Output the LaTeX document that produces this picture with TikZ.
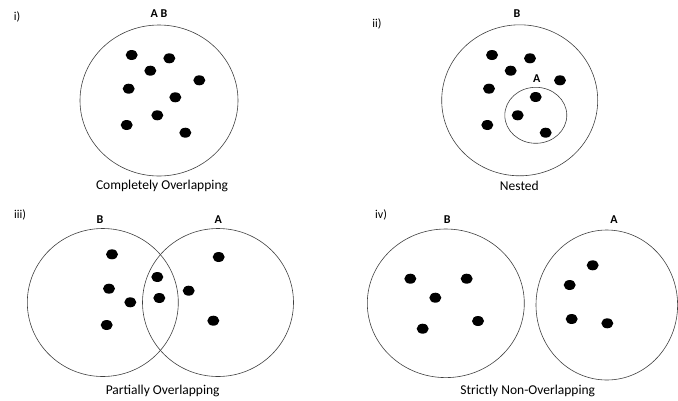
\documentclass[tikz,border=0pt]{standalone}
\usepackage{fontspec}
\setmainfont{Carlito}
\usetikzlibrary{shapes.geometric, positioning}
\tikzstyle{set} = [ellipse, draw=black!75, line width=0.6pt, inner sep=0pt]
\tikzstyle{elem} = [ellipse, fill=black, minimum width=12pt, minimum height=10pt, inner sep=0pt]
\tikzstyle{setname} = [font=\fontsize{12}{14}\selectfont\bfseries, inner sep=0pt]
\tikzstyle{caption} = [font=\fontsize{13.5}{16}\selectfont, inner sep=0pt]
\tikzstyle{panel} = [font=\fontsize{12}{14}\selectfont, inner sep=0pt]

\begin{document}
\begin{tikzpicture}[x=1pt, y=-1pt]
	\useasboundingbox (0,0) rectangle (678,400);

	% i) Completely overlapping
	\node (tag1) [panel] at (17,17) {i)};
	\node (setAB) [set, minimum width=158pt, minimum height=151pt] at (159,100.5) {};
	\node (nameAB) [setname] at (159,14) {A B};
	\node (e1a) [elem] at (131.7,55) {};
	\node (e1b) [elem] at (169.3,58.3) {};
	\node (e1c) [elem] at (150.3,70.7) {};
	\node (e1d) [elem] at (199.3,80.3) {};
	\node (e1e) [elem] at (128.7,88.7) {};
	\node (e1f) [elem] at (175.3,97.3) {};
	\node (e1g) [elem] at (157.3,115.3) {};
	\node (e1h) [elem] at (126.7,125) {};
	\node (e1i) [elem] at (185.3,132.7) {};
	\node (cap1) [caption] at (162,185.7) {Completely Overlapping};

	% ii) Nested
	\node (tag2) [panel] at (377,24) {ii)};
	\node (setB2) [set, minimum width=156pt, minimum height=151pt] at (519.7,100.3) {};
	\node (nameB2) [setname] at (517,14) {B};
	\node (setA2) [set, minimum width=62pt, minimum height=56pt] at (535.8,115.3) {};
	\node (nameA2) [setname] at (536.7,78.3) {A};
	\node (e2a) [elem] at (492,55) {};
	\node (e2b) [elem] at (530,58.3) {};
	\node (e2c) [elem] at (510.7,70.7) {};
	\node (e2d) [elem] at (560,80.3) {};
	\node (e2e) [elem] at (489,88.7) {};
	\node (e2f) [elem] at (535.7,97) {};
	\node (e2g) [elem] at (517.7,115.3) {};
	\node (e2h) [elem] at (487.3,125) {};
	\node (e2i) [elem] at (545.7,132.7) {};
	\node (cap2) [caption] at (519.3,185.7) {Nested};

	% iii) Partially overlapping
	\node (tag3) [panel] at (20,215) {iii)};
	\node (setB3) [set, minimum width=151pt, minimum height=148pt] at (102.8,302.5) {};
	\node (setA3) [set, minimum width=151pt, minimum height=148pt] at (218,302.5) {};
	\node (nameB3) [setname] at (100,219.3) {B};
	\node (nameA3) [setname] at (218.3,219.3) {A};
	\node (e3a) [elem] at (112,254.3) {};
	\node (e3b) [elem] at (109,288.7) {};
	\node (e3c) [elem] at (130.3,302.3) {};
	\node (e3d) [elem] at (106.7,325) {};
	\node (e3e) [elem] at (157.3,277) {};
	\node (e3f) [elem] at (159.3,298) {};
	\node (e3g) [elem] at (188.7,290.7) {};
	\node (e3h) [elem] at (218.7,257) {};
	\node (e3i) [elem] at (213.3,320.7) {};
	\node (cap3) [caption] at (162.7,391) {Partially Overlapping};

	% iv) Strictly non-overlapping
	\node (tag4) [panel] at (381,215) {iv)};
	\node (setB4) [set, minimum width=157pt, minimum height=148.6pt] at (445.8,303.3) {};
	\node (setA4) [set, minimum width=141.6pt, minimum height=150pt] at (606.8,305) {};
	\node (nameB4) [setname] at (447.3,220) {B};
	\node (nameA4) [setname] at (614,220) {A};
	\node (e4a) [elem] at (410.3,278.7) {};
	\node (e4b) [elem] at (466.7,278.7) {};
	\node (e4c) [elem] at (435.3,297.7) {};
	\node (e4d) [elem] at (478,321) {};
	\node (e4e) [elem] at (422.7,328.7) {};
	\node (e4f) [elem] at (592.7,265.3) {};
	\node (e4g) [elem] at (569.7,285) {};
	\node (e4h) [elem] at (571.7,319) {};
	\node (e4i) [elem] at (607.3,323.3) {};
	\node (cap4) [caption] at (527.7,390.7) {Strictly Non-Overlapping};

\end{tikzpicture}
\end{document}
